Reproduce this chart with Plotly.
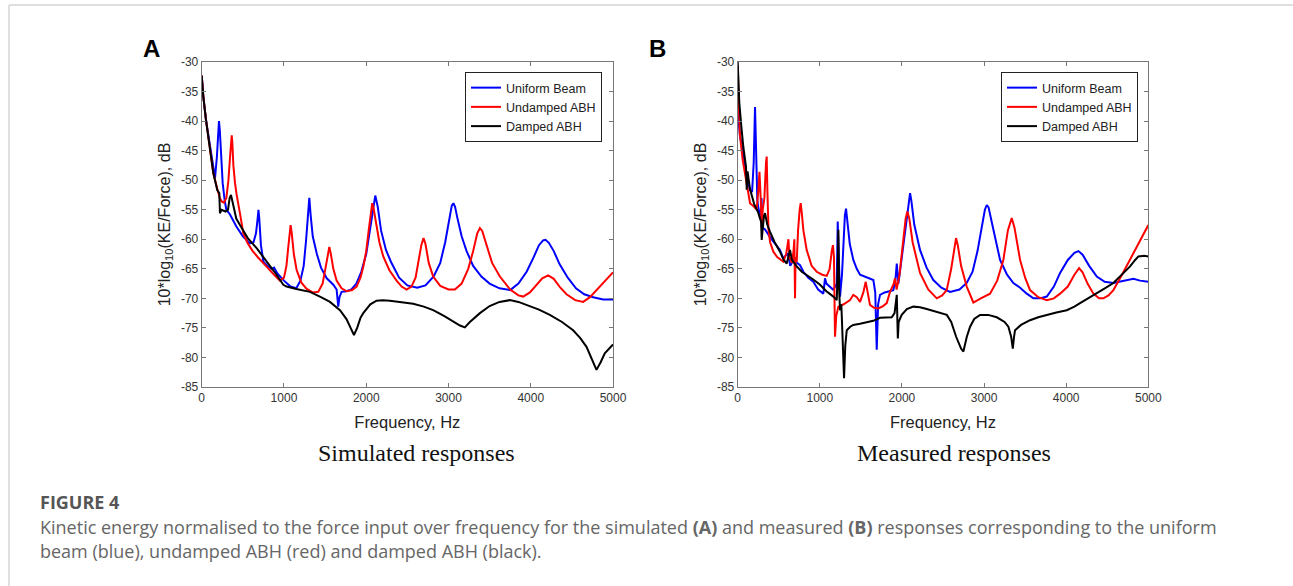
import plotly.graph_objects as go

W, H = 1293, 586

# --- Simulated responses (panel A) ---
sim_uniform_f = [0, 20, 52, 101, 141, 162, 185, 200, 210, 220, 235, 255, 280, 300, 344, 420, 500, 587, 630, 660,
                 680, 690, 700, 720, 750, 800, 850, 880, 920, 1000, 1080, 1150, 1200, 1240, 1270, 1290, 1308, 1325,
                 1350, 1400, 1450, 1520, 1600, 1640, 1660, 1675, 1700, 1760, 1820, 1880, 1940, 2000, 2040, 2080,
                 2110, 2140, 2180, 2240, 2300, 2400, 2500, 2620, 2720, 2820, 2900, 2960, 3010, 3040, 3060, 3080,
                 3110, 3160, 3220, 3300, 3400, 3500, 3620, 3750, 3850, 3950, 4030, 4100, 4150, 4180, 4220, 4280,
                 4350, 4450, 4550, 4650, 4760, 4880, 5000]
sim_uniform_db = [-32.3, -35.9, -39.8, -44.3, -48.5, -49.6, -46, -41.5, -40, -41.5, -46, -50.5, -53.5, -55, -55.8,
                  -57.8, -59.5, -60.7, -60.5, -59, -56.5, -55, -56.5, -61, -63.8, -64.5, -65, -64.8, -65.8, -67,
                  -68, -68.3, -67, -64.5, -60, -56, -53, -56, -59.5, -62.5, -64.8, -66.6, -67.7, -68.5, -71.4,
                  -69.8, -68.9, -68.8, -68.5, -67.5, -65.5, -62.5, -59, -55, -52.6, -54.5, -58.5, -61.8, -63.8,
                  -66.5, -67.8, -68.2, -67.8, -66.3, -64, -60.5, -56.5, -54.3, -53.9, -54.5, -56.5, -59.5, -62,
                  -64.5, -66.3, -67.5, -68.3, -68.6, -67.5, -65.5, -63.2, -61, -60.2, -60.1, -60.6, -62, -64.2,
                  -66.5, -68.3, -69.3, -69.8, -70.2, -70.2]

sim_undamped_f = [0, 20, 52, 101, 141, 190, 220, 243, 270, 300, 325, 345, 358, 365, 372, 385, 405, 425, 470, 506,
                  560, 620, 680, 729, 800, 880, 951, 1000, 1030, 1055, 1070, 1081, 1095, 1120, 1154, 1210, 1276,
                  1350, 1417, 1470, 1510, 1535, 1551, 1570, 1600, 1640, 1700, 1762, 1830, 1883, 1930, 1964, 2000,
                  2030, 2055, 2073, 2090, 2120, 2160, 2207, 2280, 2369, 2430, 2491, 2550, 2600, 2640, 2670, 2697,
                  2720, 2760, 2814, 2900, 3000, 3078, 3160, 3240, 3300, 3350, 3382, 3410, 3460, 3530, 3625, 3750,
                  3850, 3908, 3990, 4070, 4140, 4212, 4280, 4360, 4435, 4540, 4637, 4720, 4800, 4900, 5000]
sim_undamped_db = [-32.3, -35.9, -39.8, -44.3, -48.8, -51.5, -53, -53.6, -53.8, -53, -50, -46, -43, -42.4, -43.5,
                   -47.5, -50.5, -52.5, -56, -59, -60.7, -62, -63, -63.8, -64.8, -66, -67, -66.5, -64.5, -61,
                   -58.5, -57.6, -59, -62.5, -65.2, -67.3, -68.4, -69, -68.9, -67.5, -64.5, -62, -61.3, -62.5, -65,
                   -67, -68.3, -68.8, -68.6, -68, -66.5, -64.7, -62, -58.5, -55.5, -53.9, -54.8, -57.5, -60.5,
                   -62.9, -65.2, -67, -68, -68.5, -68, -66.5, -63.5, -61, -59.8, -60.8, -64, -66.3, -67.9, -68.5,
                   -68.5, -67.5, -65, -62, -59, -58.1, -58.6, -61, -64, -66.3, -68.5, -69.5, -69.7, -69, -67.8,
                   -66.6, -66.1, -66.7, -68.2, -69.3, -70.3, -70.6, -69.8, -68.6, -67.1, -65.6]

sim_damped_f = [0, 20, 52, 101, 141, 190, 214, 222, 240, 290, 320, 340, 356, 380, 420, 465, 560, 668, 750, 830,
                910, 992, 1032, 1150, 1316, 1450, 1559, 1681, 1760, 1810, 1851, 1890, 1930, 1964, 2050, 2126, 2200,
                2288, 2420, 2571, 2700, 2814, 2950, 3057, 3140, 3199, 3260, 3382, 3500, 3620, 3746, 3850, 3949,
                4100, 4232, 4380, 4515, 4600, 4678, 4740, 4799, 4850, 4900, 5000]
sim_damped_db = [-32.3, -35.9, -39.8, -44.3, -48.8, -51.7, -52.2, -55.6, -55, -55.3, -55, -53, -52.5, -54, -56.5,
                 -57.6, -59.8, -61.5, -63, -64.4, -66, -67.7, -68, -68.4, -68.9, -69.8, -70.6, -72, -73.5, -75,
                 -76.2, -75, -73.3, -72.5, -71, -70.4, -70.3, -70.4, -70.6, -70.9, -71.4, -72, -73, -73.9, -74.6,
                 -74.9, -74, -72.5, -71.3, -70.6, -70.3, -70.6, -71.1, -71.9, -72.8, -74, -75.4, -76.7, -78.2,
                 -80.3, -82.1, -80.8, -79.3, -77.8]

# --- Measured responses (panel B) ---
meas_uniform_f = [0, 8, 28, 68, 110, 150, 175, 195, 211, 225, 239, 255, 275, 290, 300, 330, 360, 393, 430, 470,
                  515, 556, 580, 613, 640, 677, 720, 759, 800, 860, 921, 980, 1043, 1063, 1080, 1124, 1160, 1190,
                  1206, 1218, 1232, 1246, 1270, 1290, 1305, 1319, 1335, 1365, 1408, 1450, 1490, 1570, 1652, 1675,
                  1693, 1710, 1733, 1790, 1850, 1895, 1920, 1937, 1957, 1980, 2020, 2060, 2085, 2099, 2115, 2150,
                  2220, 2300, 2382, 2480, 2586, 2700, 2789, 2860, 2920, 2970, 3010, 3033, 3055, 3100, 3195, 3280,
                  3357, 3439, 3520, 3601, 3680, 3764, 3850, 3926, 4020, 4100, 4149, 4200, 4280, 4373, 4470, 4575,
                  4700, 4819, 4900, 5000]
meas_uniform_db = [-35.3, -39.3, -42.6, -45.5, -49.5, -51.7, -52, -47, -37.6, -47, -53.4, -55, -56.5, -53, -58,
                   -58.3, -59, -59.6, -60.3, -61, -61.8, -63.3, -62.8, -62.4, -64.5, -63.5, -64, -64.4, -65.5,
                   -66.5, -67.2, -68.5, -69.2, -66.6, -67.5, -68, -68.5, -68, -67.5, -57, -66, -69.7, -66, -60,
                   -56, -54.8, -57, -60.8, -63.5, -65, -66, -66.5, -66.9, -69, -78.7, -71, -69.4, -69, -68.8,
                   -68.6, -67, -64.1, -67.5, -65, -61, -56, -53.2, -52.2, -53.5, -57.5, -61.8, -64.8, -66.9,
                   -68.2, -68.9, -68.5, -67.4, -65.5, -62, -58, -55, -54.2, -54.6, -57.5, -63.5, -66, -67.4,
                   -68.2, -69.2, -70, -70, -69.7, -68, -65.7, -63.5, -62.3, -62, -62.6, -64.5, -66.3, -67.2,
                   -67.4, -67, -66.7, -67, -67.2]

meas_undamped_f = [0, 8, 25, 60, 100, 150, 200, 230, 250, 265, 280, 292, 305, 325, 345, 353, 362, 375, 395, 434,
                   480, 520, 556, 590, 610, 618, 630, 660, 680, 690, 698, 705, 719, 735, 755, 767, 780, 800, 840,
                   900, 962, 1030, 1084, 1120, 1145, 1160, 1172, 1185, 1200, 1226, 1290, 1368, 1408, 1450, 1490,
                   1530, 1559, 1585, 1611, 1660, 1713, 1770, 1815, 1855, 1900, 1916, 1935, 1970, 2010, 2045, 2066,
                   2090, 2130, 2220, 2320, 2424, 2490, 2545, 2600, 2635, 2659, 2680, 2720, 2789, 2870, 2960, 3073,
                   3160, 3235, 3290, 3337, 3370, 3439, 3500, 3560, 3660, 3764, 3850, 3926, 4020, 4100, 4157, 4200,
                   4260, 4331, 4400, 4453, 4515, 4575, 4680, 4778, 4890, 5000]
meas_undamped_db = [-30.5, -36, -42, -46.5, -50, -53.9, -54.5, -55, -52, -48.6, -53, -58, -55, -53, -47, -46, -52,
                    -58.4, -60.5, -62.1, -63, -63.5, -63.8, -62.5, -60.5, -60, -63, -64, -62, -60, -70, -63, -63.8,
                    -58.5, -55, -53.9, -55.5, -58.5, -61.8, -64.5, -65.5, -66, -66.2, -65, -62, -61, -63, -76.5,
                    -73, -71.4, -71, -70.3, -69.4, -69.8, -70.6, -69, -67.2, -69.5, -71.1, -71.6, -71.7, -71.3,
                    -70.8, -68.9, -67.5, -66.6, -68.5, -66, -61, -56.5, -55.3, -56.5, -60.5, -65.7, -68.5, -70,
                    -69.5, -68.6, -65, -61.5, -59.8, -61, -64.5, -68, -70.7, -70, -69.2, -67, -63.5, -58.5, -56.4,
                    -58, -63.5, -66.5, -68.6, -69.8, -70.3, -70, -69.2, -68, -66, -64.9, -65.6, -67.5, -69.2, -70,
                    -70, -69.5, -68.6, -66, -63.5, -60.5, -57.6]

meas_damped_f = [0, 20, 45, 68, 101, 110, 120, 150, 200, 250, 272, 285, 292, 305, 320, 333, 360, 393, 450, 515,
                 560, 597, 620, 637, 660, 719, 780, 840, 920, 1003, 1080, 1165, 1206, 1218, 1226, 1234, 1246, 1262,
                 1280, 1295, 1310, 1328, 1370, 1408, 1490, 1571, 1650, 1733, 1800, 1876, 1910, 1930, 1937, 1950,
                 1960, 1997, 2060, 2139, 2220, 2302, 2420, 2546, 2600, 2660, 2720, 2748, 2790, 2830, 2880, 2951,
                 3050, 3155, 3250, 3296, 3330, 3350, 3365, 3377, 3450, 3560, 3660, 3764, 3880, 4007, 4100, 4169,
                 4270, 4373, 4470, 4575, 4680, 4778, 4840, 4880, 4950, 5000]
meas_damped_db = [-30, -37, -41, -44.3, -47.7, -51.6, -48.5, -51.5, -54, -55.5, -56.5, -57, -60.1, -58, -56, -55.6,
                  -57.5, -58.7, -60.5, -62.1, -63.5, -64.1, -63, -61.8, -63.5, -64.6, -65.5, -66, -66.8, -67.7,
                  -68.8, -69.7, -70.3, -65, -58.4, -68, -72, -71, -77, -83.5, -78, -75.4, -74.8, -74.5, -74.3, -74,
                  -73.8, -73.3, -73.2, -73.2, -72.5, -69.5, -69.4, -76.8, -74, -72.8, -71.8, -71.4, -71.5, -71.8,
                  -72.3, -72.8, -74, -76.5, -78.5, -79, -76.5, -74.8, -73.5, -72.8, -72.8, -73.2, -74, -74.8,
                  -76.5, -78.5, -76.5, -75.4, -74.5, -73.7, -73.2, -72.8, -72.4, -72, -71.4, -70.8, -70, -69.2,
                  -68.3, -67.4, -66, -64.6, -63.5, -62.9, -62.8, -62.9]

series_names = ["Uniform Beam", "Undamped ABH", "Damped ABH"]
series_colors = ["#0000ff", "#ff0000", "#000000"]
x_ticks = [0, 1000, 2000, 3000, 4000, 5000]
y_ticks = [-30, -35, -40, -45, -50, -55, -60, -65, -70, -75, -80, -85]

panels = [
    ("x", "y", "legend", [(sim_uniform_f, sim_uniform_db), (sim_undamped_f, sim_undamped_db),
                          (sim_damped_f, sim_damped_db)]),
    ("x2", "y2", "legend2", [(meas_uniform_f, meas_uniform_db), (meas_undamped_f, meas_undamped_db),
                             (meas_damped_f, meas_damped_db)]),
]

fig = go.Figure()
for xa, ya, leg, data in panels:
    for (f, db), name, col in zip(data, series_names, series_colors):
        fig.add_trace(go.Scatter(x=f, y=db, mode="lines", name=name, xaxis=xa, yaxis=ya, legend=leg,
                                 line=dict(color=col, width=2)))


def px_x(p):
    return p / W


def px_y(p):
    return 1 - p / H


axis_common = dict(showline=True, linecolor="#777", linewidth=1, mirror="ticks", ticks="inside", ticklen=4,
                   tickcolor="#777", showgrid=False, zeroline=False,
                   tickfont=dict(family="Liberation Sans, Arial", size=12, color="#333"))
x_common = dict(axis_common, range=[0, 5000], tickvals=x_ticks, ticktext=[str(t) for t in x_ticks],
                title=dict(text="Frequency, Hz", standoff=12,
                           font=dict(family="Liberation Sans, Arial", size=16.5, color="#222")))
y_common = dict(axis_common, range=[-85, -30], tickvals=y_ticks, ticktext=[str(t) for t in y_ticks],
                title=dict(text="10*log<sub>10</sub>(KE/Force), dB", standoff=6,
                           font=dict(family="Liberation Sans, Arial", size=16, color="#222")))

legend_common = dict(bgcolor="white", bordercolor="#222", borderwidth=1, xanchor="right", yanchor="top",
                     font=dict(family="Liberation Sans, Arial", size=12.5, color="#222"), itemwidth=30,
                     tracegroupgap=0)

fig.update_layout(
    width=W, height=H,
    margin=dict(l=0, r=0, t=0, b=0, autoexpand=False),
    paper_bgcolor="white", plot_bgcolor="white",
    xaxis=dict(x_common, domain=[px_x(201.7), px_x(613)], anchor="y"),
    yaxis=dict(y_common, domain=[px_y(387), px_y(62)], anchor="x"),
    xaxis2=dict(x_common, domain=[px_x(737.7), px_x(1148.3)], anchor="y2"),
    yaxis2=dict(y_common, domain=[px_y(387), px_y(62)], anchor="x2"),
    legend=dict(legend_common, x=px_x(602), y=px_y(72)),
    legend2=dict(legend_common, x=px_x(1138), y=px_y(72)),
    showlegend=True,
)

# page frame lines
fig.add_shape(type="line", xref="paper", yref="paper", x0=px_x(9), x1=1, y0=px_y(5), y1=px_y(5),
              line=dict(color="#d4d4d4", width=1.5))
fig.add_shape(type="line", xref="paper", yref="paper", x0=px_x(9), x1=px_x(9), y0=0, y1=px_y(5),
              line=dict(color="#d4d4d4", width=1.5))

for letter, cx in [("A", 151), ("B", 657)]:
    fig.add_annotation(text=f"<b>{letter}</b>", x=px_x(cx), y=px_y(48), xref="paper", yref="paper",
                       showarrow=False, xanchor="center", yanchor="middle",
                       font=dict(family="Liberation Sans, Arial", size=24, color="black"))

for label, cx in [("Simulated responses", 416), ("Measured responses", 954)]:
    fig.add_annotation(text=label, x=px_x(cx), y=px_y(453), xref="paper", yref="paper", showarrow=False,
                       xanchor="center", yanchor="middle",
                       font=dict(family="Liberation Serif, Times New Roman", size=24, color="#111"))

fig.add_annotation(text="<b>FIGURE 4</b>", x=px_x(38), y=px_y(502), xref="paper", yref="paper",
                   showarrow=False, xanchor="left", yanchor="middle",
                   font=dict(family="Open Sans", size=18, color="#555"))
fig.add_annotation(text="Kinetic energy normalised to the force input over frequency for the simulated <b>(A)</b> "
                        "and measured <b>(B)</b> responses corresponding to the uniform",
                   x=px_x(38), y=px_y(527), xref="paper", yref="paper", showarrow=False,
                   xanchor="left", yanchor="middle", font=dict(family="Open Sans", size=18, color="#666"))
fig.add_annotation(text="beam (blue), undamped ABH (red) and damped ABH (black).",
                   x=px_x(38), y=px_y(551), xref="paper", yref="paper", showarrow=False,
                   xanchor="left", yanchor="middle", font=dict(family="Open Sans", size=18, color="#666"))

fig.write_html("out.html", config={"displayModeBar": False},
               post_script="document.body.style.margin = '0';")
